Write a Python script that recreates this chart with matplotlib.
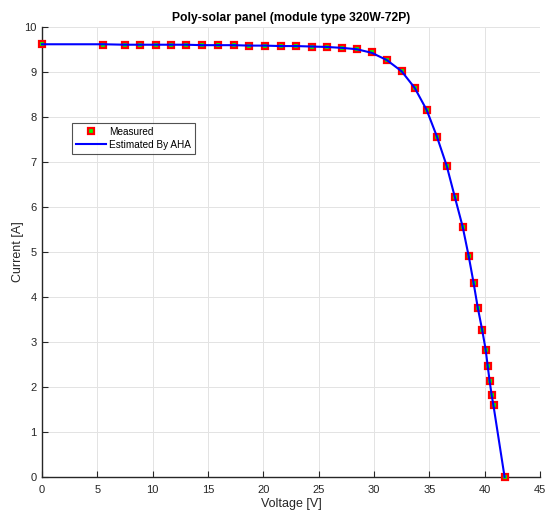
import matplotlib
matplotlib.use("Agg")
import matplotlib.pyplot as plt

plt.rcParams['font.family'] = ['Liberation Sans', 'DejaVu Sans']

voltage = [0.0, 5.54, 7.5, 8.85, 10.27, 11.65, 13.0, 14.47, 15.9, 17.34, 18.72, 20.14,
           21.58, 22.93, 24.38, 25.73, 27.09, 28.44, 29.8, 31.15, 32.5, 33.68, 34.76,
           35.67, 36.57, 37.29, 38.01, 38.56, 39.0, 39.37, 39.77, 40.09, 40.27, 40.45,
           40.63, 40.8, 41.8]
measured = [9.61, 9.60, 9.60, 9.60, 9.60, 9.60, 9.60, 9.59, 9.59, 9.59, 9.58, 9.58,
            9.57, 9.57, 9.56, 9.55, 9.53, 9.51, 9.43, 9.26, 9.02, 8.63, 8.15,
            7.56, 6.90, 6.22, 5.56, 4.90, 4.30, 3.76, 3.26, 2.82, 2.46, 2.13,
            1.83, 1.59, 0.0]
estimated = [9.61, 9.61, 9.60, 9.60, 9.60, 9.60, 9.60, 9.59, 9.59, 9.59, 9.58, 9.58,
             9.57, 9.57, 9.56, 9.55, 9.53, 9.50, 9.42, 9.26, 9.01, 8.64, 8.15,
             7.57, 6.91, 6.23, 5.56, 4.90, 4.31, 3.77, 3.27, 2.83, 2.47, 2.13,
             1.82, 1.58, 0.0]

title = "Poly-solar panel (module type 320W-72P)"
xticks = [0, 5, 10, 15, 20, 25, 30, 35, 40, 45]
yticks = [0, 1, 2, 3, 4, 5, 6, 7, 8, 9, 10]

fig = plt.figure(figsize=(5.45, 5.13), dpi=100)
ax = fig.add_axes([42/545, 1-477/513, (540-42)/545, (477-26.7)/513])

ax.plot(voltage, measured, linestyle='none', marker='s', markersize=5,
        markerfacecolor='#00ff00', markeredgecolor='red', markeredgewidth=1.6,
        label='Measured', zorder=3, clip_on=False)
ax.plot(voltage, estimated, color='#0000ff', linewidth=1.5,
        label='Estimated By AHA', zorder=4, clip_on=False)

ax.set_xlim(0, 45)
ax.set_ylim(0, 10)
ax.set_xticks(xticks)
ax.set_yticks(yticks)
ax.grid(True, color='#e3e3e3', linewidth=0.7)
ax.set_axisbelow(True)
for s in ['top', 'right']:
    ax.spines[s].set_visible(False)
for s in ['left', 'bottom']:
    ax.spines[s].set_color('#262626')
    ax.spines[s].set_linewidth(1.0)
ax.tick_params(direction='in', length=4, width=0.8, colors='#262626',
               labelsize=8)
ax.tick_params(axis='x', pad=6)
ax.tick_params(axis='y', pad=4)

ax.set_xlabel('Voltage [V]', fontsize=9, color='#262626', labelpad=2)
ax.set_ylabel('Current [A]', fontsize=9, color='#262626', labelpad=0)
ax.set_title(title, fontsize=8.7, fontweight='bold', pad=4)

leg = ax.legend(loc='upper left', bbox_to_anchor=((71.7-42)/498, (476.7-122.7)/450),
                fontsize=7.2, frameon=True, fancybox=False, borderpad=0.4,
                handlelength=3.0, handletextpad=0.3, labelspacing=0.3,
                borderaxespad=0)
leg.get_frame().set_edgecolor('#262626')
leg.get_frame().set_linewidth(0.8)

fig.savefig('out.png', dpi=100)
